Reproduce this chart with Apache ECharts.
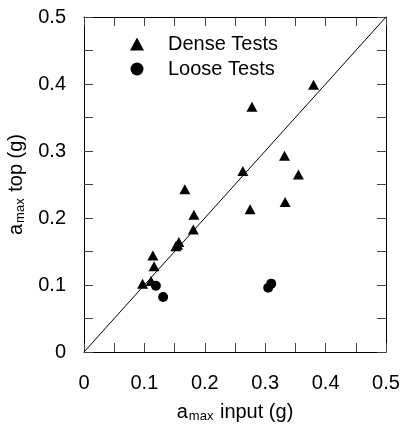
<!DOCTYPE html>
<html>
<head>
<meta charset="utf-8">
<script src="https://cdn.jsdelivr.net/npm/echarts@6/dist/echarts.min.js"></script>
<style>
  html, body { margin: 0; padding: 0; background: #fff; }
  #main { width: 403px; height: 426px; }
</style>
</head>
<body>
<div id="main"></div>
<script>
// values (g)
var denseInput = [0.380, 0.278, 0.332, 0.355, 0.263, 0.333, 0.275, 0.167, 0.182, 0.181, 0.157, 0.152, 0.155, 0.114, 0.116, 0.097, 0.111];
var denseTop   = [0.399, 0.366, 0.293, 0.265, 0.270, 0.224, 0.213, 0.243, 0.205, 0.183, 0.164, 0.158, 0.160, 0.144, 0.128, 0.102, 0.106];
var looseInput = [0.119, 0.131, 0.305, 0.310];
var looseTop   = [0.099, 0.082, 0.096, 0.102];
var lineX = [0, 0.5];
var lineY = [0, 0.5];
var seriesNames = ['Dense Tests', 'Loose Tests'];

function pairs(xs, ys) {
  return xs.map(function (x, i) { return [x, ys[i]]; });
}

var font = 'Liberation Sans, Arial, sans-serif';
var labelFmt = function (v) {
  return Math.round(v * 20) % 2 === 0 ? String(Math.round(v * 10) / 10) : '';
};
var rich = {
  base: { fontSize: 20, fontFamily: font, color: '#000', lineHeight: 22 },
  sub: { fontSize: 13, fontFamily: font, color: '#000', lineHeight: 22, padding: [9, 1, 0, 1] }
};

function axis(pos, withLabel, name) {
  var a = {
    type: 'value', position: pos, min: 0, max: 0.5, interval: 0.05,
    axisLine: { show: true, onZero: false, lineStyle: { color: '#000', width: 1 } },
    axisTick: { show: true, inside: true, length: 9, lineStyle: { color: '#444', width: 1 } },
    splitLine: { show: false },
    axisLabel: {
      show: withLabel, formatter: labelFmt, color: '#000',
      fontSize: 20, fontFamily: font
    }
  };
  if (name) {
    a.name = name;
    a.nameLocation = 'middle';
    a.nameTextStyle = { rich: rich };
  }
  return a;
}

var xBottom = axis('bottom', true, '{base|a}{sub|max}{base| input (g)}');
xBottom.axisLabel.margin = 21;
xBottom.nameGap = 49;
var yLeft = axis('left', true, '{base|a}{sub|max}{base| top (g)}');
yLeft.axisLabel.margin = 18;
yLeft.nameGap = 56;

var option = {
  animation: false,
  grid: { left: 84, right: 17, top: 17, bottom: 74, outerBoundsMode: 'none' },
  xAxis: [xBottom, axis('top', false)],
  yAxis: [yLeft, axis('right', false)],
  legend: {
    data: seriesNames,
    orient: 'vertical',
    left: 125, top: 28,
    itemWidth: 14, itemHeight: 13, itemGap: 3,
    itemStyle: { opacity: 1 },
    textStyle: { fontSize: 20, lineHeight: 22, fontFamily: font, color: '#000', padding: [0, 0, 0, 19] }
  },
  series: [
    {
      name: seriesNames[0], type: 'scatter', data: pairs(denseInput, denseTop),
      symbol: 'triangle', symbolSize: [11, 10],
      itemStyle: { color: '#000', opacity: 1 }
    },
    {
      name: seriesNames[1], type: 'scatter', data: pairs(looseInput, looseTop),
      symbol: 'circle', symbolSize: 10,
      itemStyle: { color: '#000', opacity: 1 }
    },
    {
      type: 'line', data: pairs(lineX, lineY), symbol: 'none', silent: true,
      lineStyle: { color: '#000', width: 1 }
    }
  ]
};

var myChart = echarts.init(document.getElementById('main'));
myChart.setOption(option);
</script>
</body>
</html>
